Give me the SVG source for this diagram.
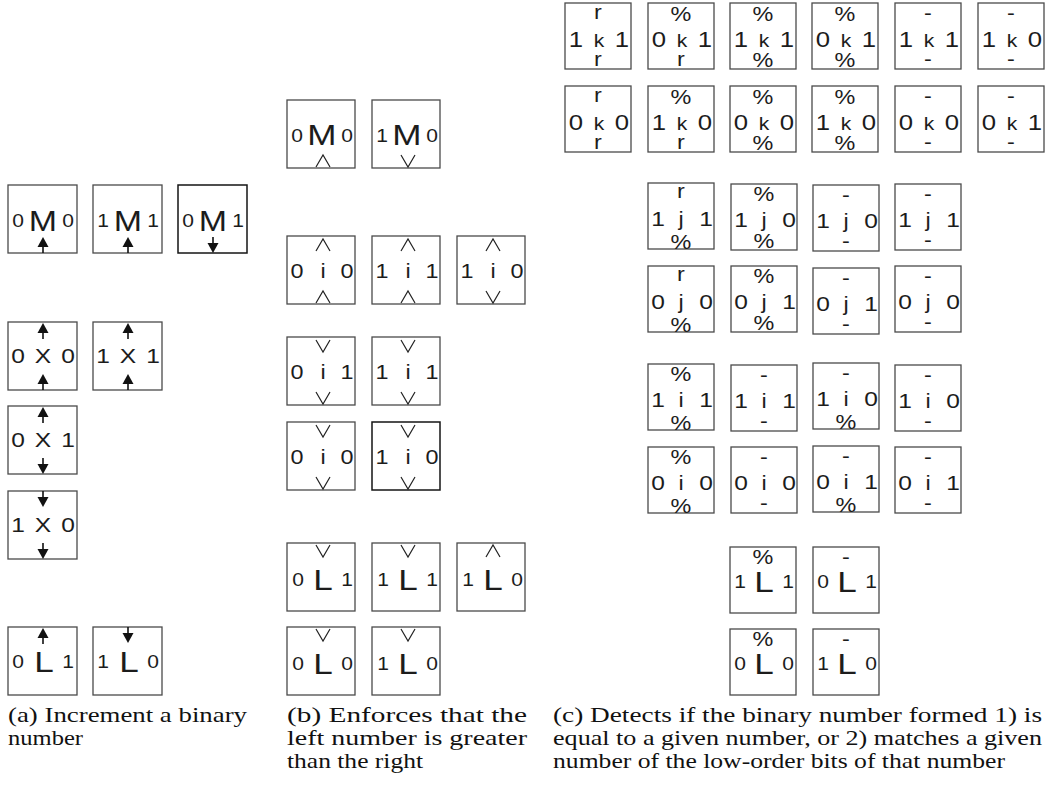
<svg xmlns="http://www.w3.org/2000/svg" width="1045" height="786" viewBox="0 0 1045 786">
<style>
.b{fill:#fff;stroke:#4a4a4a;stroke-width:1.3}
.bd{fill:#fff;stroke:#151515;stroke-width:1.5}
text{fill:#1c1c1c}
.s{font-family:"Liberation Sans",Arial,sans-serif;text-anchor:middle;transform-box:fill-box;transform-origin:center;transform:scaleX(1.17)}
.f18{font-size:18px}.f20{font-size:20px}.f21{font-size:21px}.f22{font-size:22px}.f29{font-size:29px}.f30{font-size:30px}
.cap{font-family:"Liberation Serif","Times New Roman",serif;font-size:22px;fill:#111}
.stem{stroke:#111;stroke-width:1.6}
.tri{fill:#111}
.chv{fill:none;stroke:#222;stroke-width:1.2;stroke-linejoin:miter}
</style>
<defs>
<g id="up"><line class="stem" x1="0" y1="9" x2="0" y2="16"/><polygon class="tri" points="0,0 -5.5,10 5.5,10"/></g>
<g id="dn"><line class="stem" x1="0" y1="0" x2="0" y2="7"/><polygon class="tri" points="-5.5,6 5.5,6 0,16"/></g>
<polyline id="cu" class="chv" points="-7,12 0,0 7,12"/>
<polyline id="cd" class="chv" points="-7,0 0,12 7,0"/>
</defs>
<rect width="1045" height="786" fill="#fff"/>
<g id="connectors"/>

<!-- (a) -->
<g id="a1" transform="translate(8,185)"><rect class="b" width="69" height="68"/><text class="s f18" x="10" y="42">0</text><text class="s f29" x="35" y="46">M</text><text class="s f18" x="60" y="42">0</text><use href="#up" x="35" y="52"/></g>
<g id="a2" transform="translate(93,185)"><rect class="b" width="69" height="68"/><text class="s f18" x="10" y="42">1</text><text class="s f29" x="35" y="46">M</text><text class="s f18" x="60" y="42">1</text><use href="#up" x="35" y="52"/></g>
<g id="a3" transform="translate(178,185)"><rect class="bd" width="69" height="68"/><text class="s f18" x="10" y="42">0</text><text class="s f29" x="35" y="46">M</text><text class="s f18" x="60" y="42">1</text><use href="#dn" x="35" y="52"/></g>
<g id="a4" transform="translate(8,322)"><rect class="b" width="69" height="68"/><text class="s f21" x="10" y="41">0</text><text class="s f21" x="35" y="41">X</text><text class="s f21" x="60" y="41">0</text><use href="#up" x="35" y="1"/><use href="#up" x="35" y="52"/></g>
<g id="a5" transform="translate(93,322)"><rect class="b" width="69" height="68"/><text class="s f21" x="10" y="41">1</text><text class="s f21" x="35" y="41">X</text><text class="s f21" x="60" y="41">1</text><use href="#up" x="35" y="1"/><use href="#up" x="35" y="52"/></g>
<g id="a6" transform="translate(8,406)"><rect class="b" width="69" height="68"/><text class="s f21" x="10" y="41">0</text><text class="s f21" x="35" y="41">X</text><text class="s f21" x="60" y="41">1</text><use href="#up" x="35" y="1"/><use href="#dn" x="35" y="52"/></g>
<g id="a7" transform="translate(8,491)"><rect class="b" width="69" height="68"/><text class="s f21" x="10" y="41">1</text><text class="s f21" x="35" y="41">X</text><text class="s f21" x="60" y="41">0</text><use href="#dn" x="35" y="0"/><use href="#dn" x="35" y="52"/></g>
<g id="a8" transform="translate(8,627)"><rect class="b" width="69" height="68"/><text class="s f18" x="10" y="41">0</text><text class="s f30" x="36" y="45">L</text><text class="s f18" x="60" y="41">1</text><use href="#up" x="35" y="1"/></g>
<g id="a9" transform="translate(93,627)"><rect class="b" width="69" height="68"/><text class="s f18" x="10" y="41">1</text><text class="s f30" x="36" y="45">L</text><text class="s f18" x="60" y="41">0</text><use href="#dn" x="35" y="0"/></g>

<!-- (b) -->
<g id="b1" transform="translate(287,100)"><rect class="b" width="68" height="68"/><text class="s f18" x="10" y="42">0</text><text class="s f30" x="35" y="45">M</text><text class="s f18" x="60" y="42">0</text><use href="#cu" x="36" y="55"/></g>
<g id="b2" transform="translate(372,100)"><rect class="b" width="68" height="68"/><text class="s f18" x="10" y="42">1</text><text class="s f30" x="35" y="45">M</text><text class="s f18" x="60" y="42">0</text><use href="#cd" x="36" y="55"/></g>
<g id="b3" transform="translate(287,236)"><rect class="b" width="68" height="68"/><use href="#cu" x="36" y="3"/><text class="s f20" x="10" y="42">0</text><text class="s f20" x="36" y="42">i</text><text class="s f20" x="60" y="42">0</text><use href="#cu" x="36" y="55"/></g>
<g id="b4" transform="translate(372,236)"><rect class="b" width="68" height="68"/><use href="#cu" x="36" y="3"/><text class="s f20" x="10" y="42">1</text><text class="s f20" x="36" y="42">i</text><text class="s f20" x="60" y="42">1</text><use href="#cu" x="36" y="55"/></g>
<g id="b5" transform="translate(457,236)"><rect class="b" width="68" height="68"/><use href="#cu" x="36" y="3"/><text class="s f20" x="10" y="42">1</text><text class="s f20" x="36" y="42">i</text><text class="s f20" x="60" y="42">0</text><use href="#cd" x="36" y="55"/></g>
<g id="b6" transform="translate(287,337)"><rect class="b" width="68" height="68"/><use href="#cd" x="36" y="3"/><text class="s f20" x="10" y="42">0</text><text class="s f20" x="36" y="42">i</text><text class="s f20" x="60" y="42">1</text><use href="#cd" x="36" y="55"/></g>
<g id="b7" transform="translate(372,337)"><rect class="b" width="68" height="68"/><use href="#cd" x="36" y="3"/><text class="s f20" x="10" y="42">1</text><text class="s f20" x="36" y="42">i</text><text class="s f20" x="60" y="42">1</text><use href="#cd" x="36" y="55"/></g>
<g id="b8" transform="translate(287,422)"><rect class="b" width="68" height="68"/><use href="#cd" x="36" y="3"/><text class="s f20" x="10" y="42">0</text><text class="s f20" x="36" y="42">i</text><text class="s f20" x="60" y="42">0</text><use href="#cd" x="36" y="55"/></g>
<g id="b9" transform="translate(372,422)"><rect class="bd" width="68" height="68"/><use href="#cd" x="36" y="3"/><text class="s f20" x="10" y="42">1</text><text class="s f20" x="36" y="42">i</text><text class="s f20" x="60" y="42">0</text><use href="#cd" x="36" y="55"/></g>
<g id="b10" transform="translate(287,543)"><rect class="b" width="68" height="68"/><use href="#cd" x="36" y="2"/><text class="s f18" x="11" y="43">0</text><text class="s f30" x="36" y="47">L</text><text class="s f18" x="60" y="43">1</text></g>
<g id="b11" transform="translate(372,543)"><rect class="b" width="68" height="68"/><use href="#cd" x="36" y="2"/><text class="s f18" x="11" y="43">1</text><text class="s f30" x="36" y="47">L</text><text class="s f18" x="60" y="43">1</text></g>
<g id="b12" transform="translate(457,543)"><rect class="b" width="68" height="68"/><use href="#cu" x="36" y="2"/><text class="s f18" x="11" y="43">1</text><text class="s f30" x="36" y="47">L</text><text class="s f18" x="60" y="43">0</text></g>
<g id="b13" transform="translate(287,627)"><rect class="b" width="68" height="68"/><use href="#cd" x="36" y="2"/><text class="s f18" x="11" y="43">0</text><text class="s f30" x="36" y="47">L</text><text class="s f18" x="60" y="43">0</text></g>
<g id="b14" transform="translate(372,627)"><rect class="b" width="68" height="68"/><use href="#cd" x="36" y="2"/><text class="s f18" x="11" y="43">1</text><text class="s f30" x="36" y="47">L</text><text class="s f18" x="60" y="43">0</text></g>

<!-- (c) k rows -->
<g id="c1" transform="translate(565,3)"><rect class="b" width="66" height="66"/><text class="s f20" x="33" y="16">r</text><text class="s f22" x="11" y="44">1</text><text class="s f18" x="34" y="44">k</text><text class="s f22" x="57" y="44">1</text><text class="s f20" x="33" y="63">r</text></g>
<g id="c2" transform="translate(648,3)"><rect class="b" width="66" height="66"/><text class="s f20" x="33" y="18">%</text><text class="s f22" x="11" y="44">0</text><text class="s f18" x="34" y="44">k</text><text class="s f22" x="57" y="44">1</text><text class="s f20" x="33" y="63">r</text></g>
<g id="c3" transform="translate(730,3)"><rect class="b" width="66" height="66"/><text class="s f20" x="33" y="18">%</text><text class="s f22" x="11" y="44">1</text><text class="s f18" x="34" y="44">k</text><text class="s f22" x="57" y="44">1</text><text class="s f20" x="33" y="64">%</text></g>
<g id="c4" transform="translate(812,3)"><rect class="b" width="66" height="66"/><text class="s f20" x="33" y="18">%</text><text class="s f22" x="11" y="44">0</text><text class="s f18" x="34" y="44">k</text><text class="s f22" x="57" y="44">1</text><text class="s f20" x="33" y="64">%</text></g>
<g id="c5" transform="translate(895,3)"><rect class="b" width="66" height="66"/><text class="s f20" x="33" y="17">-</text><text class="s f22" x="11" y="44">1</text><text class="s f18" x="34" y="44">k</text><text class="s f22" x="57" y="44">1</text><text class="s f20" x="33" y="63">-</text></g>
<g id="c6" transform="translate(978,3)"><rect class="b" width="66" height="66"/><text class="s f20" x="33" y="17">-</text><text class="s f22" x="11" y="44">1</text><text class="s f18" x="34" y="44">k</text><text class="s f22" x="57" y="44">0</text><text class="s f20" x="33" y="63">-</text></g>
<g id="c7" transform="translate(565,86)"><rect class="b" width="66" height="66"/><text class="s f20" x="33" y="16">r</text><text class="s f22" x="11" y="44">0</text><text class="s f18" x="34" y="44">k</text><text class="s f22" x="57" y="44">0</text><text class="s f20" x="33" y="63">r</text></g>
<g id="c8" transform="translate(648,86)"><rect class="b" width="66" height="66"/><text class="s f20" x="33" y="18">%</text><text class="s f22" x="11" y="44">1</text><text class="s f18" x="34" y="44">k</text><text class="s f22" x="57" y="44">0</text><text class="s f20" x="33" y="63">r</text></g>
<g id="c9" transform="translate(730,86)"><rect class="b" width="66" height="66"/><text class="s f20" x="33" y="18">%</text><text class="s f22" x="11" y="44">0</text><text class="s f18" x="34" y="44">k</text><text class="s f22" x="57" y="44">0</text><text class="s f20" x="33" y="64">%</text></g>
<g id="c10" transform="translate(812,86)"><rect class="b" width="66" height="66"/><text class="s f20" x="33" y="18">%</text><text class="s f22" x="11" y="44">1</text><text class="s f18" x="34" y="44">k</text><text class="s f22" x="57" y="44">0</text><text class="s f20" x="33" y="64">%</text></g>
<g id="c11" transform="translate(895,86)"><rect class="b" width="66" height="66"/><text class="s f20" x="33" y="17">-</text><text class="s f22" x="11" y="44">0</text><text class="s f18" x="34" y="44">k</text><text class="s f22" x="57" y="44">0</text><text class="s f20" x="33" y="63">-</text></g>
<g id="c12" transform="translate(978,86)"><rect class="b" width="66" height="66"/><text class="s f20" x="33" y="17">-</text><text class="s f22" x="11" y="44">0</text><text class="s f18" x="34" y="44">k</text><text class="s f22" x="57" y="44">1</text><text class="s f20" x="33" y="63">-</text></g>

<!-- (c) j rows -->
<g id="c13" transform="translate(648,183)"><rect class="b" width="66" height="66"/><text class="s f20" x="33" y="15">r</text><text class="s f21" x="10" y="43">1</text><text class="s f20" x="33" y="43">j</text><text class="s f21" x="58" y="43">1</text><text class="s f20" x="33" y="66">%</text></g>
<g id="c14" transform="translate(731,184)"><rect class="b" width="66" height="66"/><text class="s f20" x="33" y="17">%</text><text class="s f21" x="10" y="43">1</text><text class="s f20" x="33" y="43">j</text><text class="s f21" x="58" y="43">0</text><text class="s f20" x="33" y="64">%</text></g>
<g id="c15" transform="translate(813,185)"><rect class="b" width="66" height="66"/><text class="s f20" x="33" y="17">-</text><text class="s f21" x="10" y="43">1</text><text class="s f20" x="33" y="43">j</text><text class="s f21" x="58" y="43">0</text><text class="s f20" x="33" y="63">-</text></g>
<g id="c16" transform="translate(895,184)"><rect class="b" width="66" height="66"/><text class="s f20" x="33" y="17">-</text><text class="s f21" x="10" y="43">1</text><text class="s f20" x="33" y="43">j</text><text class="s f21" x="58" y="43">1</text><text class="s f20" x="33" y="63">-</text></g>
<g id="c17" transform="translate(648,266)"><rect class="b" width="66" height="66"/><text class="s f20" x="33" y="15">r</text><text class="s f21" x="10" y="43">0</text><text class="s f20" x="33" y="43">j</text><text class="s f21" x="58" y="43">0</text><text class="s f20" x="33" y="66">%</text></g>
<g id="c18" transform="translate(731,266)"><rect class="b" width="66" height="66"/><text class="s f20" x="33" y="17">%</text><text class="s f21" x="10" y="43">0</text><text class="s f20" x="33" y="43">j</text><text class="s f21" x="58" y="43">1</text><text class="s f20" x="33" y="64">%</text></g>
<g id="c19" transform="translate(813,268)"><rect class="b" width="66" height="66"/><text class="s f20" x="33" y="17">-</text><text class="s f21" x="10" y="43">0</text><text class="s f20" x="33" y="43">j</text><text class="s f21" x="58" y="43">1</text><text class="s f20" x="33" y="63">-</text></g>
<g id="c20" transform="translate(895,266)"><rect class="b" width="66" height="66"/><text class="s f20" x="33" y="17">-</text><text class="s f21" x="10" y="43">0</text><text class="s f20" x="33" y="43">j</text><text class="s f21" x="58" y="43">0</text><text class="s f20" x="33" y="63">-</text></g>

<!-- (c) i rows -->
<g id="c21" transform="translate(648,364)"><rect class="b" width="66" height="66"/><text class="s f20" x="33" y="17">%</text><text class="s f21" x="10" y="43">1</text><text class="s f20" x="33" y="43">i</text><text class="s f21" x="58" y="43">1</text><text class="s f20" x="33" y="66">%</text></g>
<g id="c22" transform="translate(731,365)"><rect class="b" width="66" height="66"/><text class="s f20" x="33" y="17">-</text><text class="s f21" x="10" y="43">1</text><text class="s f20" x="33" y="43">i</text><text class="s f21" x="58" y="43">1</text><text class="s f20" x="33" y="63">-</text></g>
<g id="c23" transform="translate(813,363)"><rect class="b" width="66" height="66"/><text class="s f20" x="33" y="17">-</text><text class="s f21" x="10" y="43">1</text><text class="s f20" x="33" y="43">i</text><text class="s f21" x="58" y="43">0</text><text class="s f20" x="33" y="66">%</text></g>
<g id="c24" transform="translate(895,365)"><rect class="b" width="66" height="66"/><text class="s f20" x="33" y="17">-</text><text class="s f21" x="10" y="43">1</text><text class="s f20" x="33" y="43">i</text><text class="s f21" x="58" y="43">0</text><text class="s f20" x="33" y="63">-</text></g>
<g id="c25" transform="translate(648,447)"><rect class="b" width="66" height="66"/><text class="s f20" x="33" y="17">%</text><text class="s f21" x="10" y="43">0</text><text class="s f20" x="33" y="43">i</text><text class="s f21" x="58" y="43">0</text><text class="s f20" x="33" y="66">%</text></g>
<g id="c26" transform="translate(731,447)"><rect class="b" width="66" height="66"/><text class="s f20" x="33" y="17">-</text><text class="s f21" x="10" y="43">0</text><text class="s f20" x="33" y="43">i</text><text class="s f21" x="58" y="43">0</text><text class="s f20" x="33" y="63">-</text></g>
<g id="c27" transform="translate(813,446)"><rect class="b" width="66" height="66"/><text class="s f20" x="33" y="17">-</text><text class="s f21" x="10" y="43">0</text><text class="s f20" x="33" y="43">i</text><text class="s f21" x="58" y="43">1</text><text class="s f20" x="33" y="66">%</text></g>
<g id="c28" transform="translate(895,447)"><rect class="b" width="66" height="66"/><text class="s f20" x="33" y="17">-</text><text class="s f21" x="10" y="43">0</text><text class="s f20" x="33" y="43">i</text><text class="s f21" x="58" y="43">1</text><text class="s f20" x="33" y="63">-</text></g>

<!-- (c) L rows -->
<g id="c29" transform="translate(730,547)"><rect class="b" width="66" height="66"/><text class="s f20" x="33" y="17">%</text><text class="s f18" x="10" y="41">1</text><text class="s f30" x="34" y="45">L</text><text class="s f18" x="58" y="41">1</text></g>
<g id="c30" transform="translate(813,547)"><rect class="b" width="66" height="66"/><text class="s f20" x="33" y="17">-</text><text class="s f18" x="10" y="41">0</text><text class="s f30" x="34" y="45">L</text><text class="s f18" x="58" y="41">1</text></g>
<g id="c31" transform="translate(730,629)"><rect class="b" width="66" height="66"/><text class="s f20" x="33" y="17">%</text><text class="s f18" x="10" y="41">0</text><text class="s f30" x="34" y="45">L</text><text class="s f18" x="58" y="41">0</text></g>
<g id="c32" transform="translate(813,629)"><rect class="b" width="66" height="66"/><text class="s f20" x="33" y="17">-</text><text class="s f18" x="10" y="41">1</text><text class="s f30" x="34" y="45">L</text><text class="s f18" x="58" y="41">0</text></g>

<!-- captions -->
<g id="captions">
<text class="cap" x="8" y="722" textLength="239" lengthAdjust="spacingAndGlyphs">(a) Increment a binary</text>
<text class="cap" x="8" y="745" textLength="75" lengthAdjust="spacingAndGlyphs">number</text>
<text class="cap" x="287" y="722" textLength="240" lengthAdjust="spacingAndGlyphs">(b) Enforces that the</text>
<text class="cap" x="287" y="745" textLength="240" lengthAdjust="spacingAndGlyphs">left number is greater</text>
<text class="cap" x="287" y="768" textLength="136" lengthAdjust="spacingAndGlyphs">than the right</text>
<text class="cap" x="553" y="722" textLength="489" lengthAdjust="spacingAndGlyphs">(c) Detects if the binary number formed 1) is</text>
<text class="cap" x="553" y="745" textLength="489" lengthAdjust="spacingAndGlyphs">equal to a given number, or 2) matches a given</text>
<text class="cap" x="553" y="768" textLength="452" lengthAdjust="spacingAndGlyphs">number of the low-order bits of that number</text>
</g>
</svg>
